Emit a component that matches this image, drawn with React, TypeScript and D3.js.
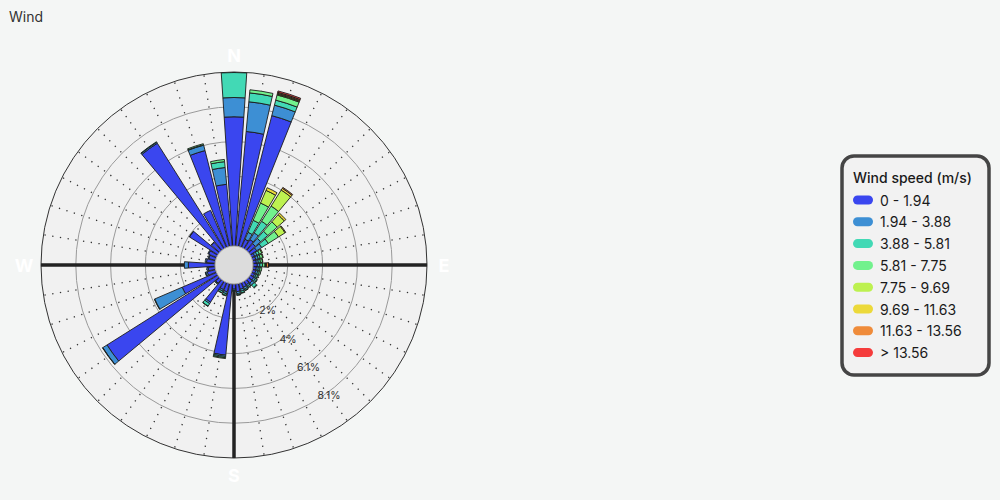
import React from 'react';
import * as d3 from 'd3';

// Direction categories (degrees clockwise from North)
const directions = [0, 9, 18, 27, 36, 45, 54, 63, 72, 81, 90, 99, 108, 117, 126, 135, 144, 153, 162, 171,
  180, 189, 198, 207, 216, 225, 234, 243, 252, 261, 270, 279, 288, 297, 306, 315, 324, 333, 342, 351];

const speedLabels = ['0 - 1.94', '1.94 - 3.88', '3.88 - 5.81', '5.81 - 7.75', '7.75 - 9.69', '9.69 - 11.63', '11.63 - 13.56', '> 13.56'];
const speedColors = ['#3a46ef', '#3d8fd4', '#42d9b5', '#72f18d', '#bdf150', '#ecd93a', '#ef8b3a', '#f53c3c'];

// frequency (%) per direction for each speed bin
const s0 = [7.50, 6.68, 7.84, 0.52, 0.64, 0.54, 0.45, 0.20, 0.20, 0.20, 0.25, 0.20, 0.20, 0.20, 0.25, 0.30, 0.25, 0.30, 0.35, 0.45,
  0.30, 4.15, 0.50, 0.45, 1.45, 0.30, 7.61, 2.17, 0.50, 0.40, 1.55, 0.50, 0.40, 0.50, 1.95, 0.65, 7.25, 2.35, 5.75, 3.60];
const s1 = [1.12, 1.73, 0.63, 0.44, 0.46, 0.41, 0.35, 0.15, 0.15, 0.12, 0.15, 0.12, 0.12, 0.10, 0.12, 0.15, 0.10, 0.12, 0.12, 0.12,
  0.08, 0.08, 0.12, 0.10, 0.10, 0.05, 0.29, 1.74, 0.10, 0.08, 0.23, 0.08, 0.05, 0.05, 0.02, 0.02, 0.07, 0, 0.32, 0.98];
const s2 = [1.45, 0.52, 0.30, 0.76, 0.80, 0.55, 0.45, 0.15, 0.12, 0.12, 0.15, 0.10, 0.10, 0.10, 0.10, 0.20, 0.08, 0.08, 0.10, 0.08,
  0.05, 0.07, 0.10, 0.10, 0.17, 0.02, 0.02, 0.02, 0.02, 0, 0, 0, 0, 0, 0, 0, 0.03, 0, 0.03, 0.34];
const s3 = [0, 0.18, 0.31, 1.09, 1.04, 0.73, 0.70, 0.15, 0.15, 0.12, 0.15, 0.10, 0.08, 0.05, 0.03, 0.03, 0.02, 0.02, 0.03, 0.02,
  0, 0.05, 0.03, 0.02, 0.02, 0, 0, 0, 0, 0, 0, 0, 0, 0, 0, 0, 0, 0, 0.06, 0.13];
const s4 = [0, 0, 0.05, 0.80, 1.10, 0.55, 0.45, 0.05, 0.03, 0.02, 0.03, 0, 0, 0, 0, 0, 0, 0, 0, 0,
  0, 0, 0, 0, 0, 0, 0, 0, 0, 0, 0, 0, 0, 0, 0, 0, 0, 0, 0, 0];
const s5 = [0, 0, 0.05, 0.17, 0.12, 0.12, 0.05, 0, 0, 0, 0.05, 0, 0, 0, 0, 0, 0, 0, 0, 0,
  0, 0, 0, 0, 0, 0, 0, 0, 0, 0, 0, 0, 0, 0, 0, 0, 0, 0, 0, 0];
const s6 = [0, 0, 0.06, 0, 0.06, 0, 0, 0, 0, 0, 0.12, 0, 0, 0, 0, 0, 0, 0, 0, 0,
  0, 0, 0, 0, 0, 0, 0, 0, 0, 0, 0, 0, 0, 0, 0, 0, 0, 0, 0, 0];
const s7 = [0, 0, 0.08, 0, 0, 0, 0, 0, 0, 0, 0.02, 0, 0, 0, 0, 0, 0, 0, 0, 0,
  0, 0, 0, 0, 0, 0, 0, 0, 0, 0, 0, 0, 0, 0, 0, 0, 0, 0, 0, 0];
const series = [s0, s1, s2, s3, s4, s5, s6, s7];

const radialMax = 10.1;
const tickValues = [2.02, 4.04, 6.06, 8.08];
const tickLabels = ['2%', '4%', '6.1%', '8.1%'];
const compass = [
  { label: 'N', deg: 0 },
  { label: 'E', deg: 90 },
  { label: 'S', deg: 180 },
  { label: 'W', deg: 270 },
];

const FONT = 'Inter, "Noto Sans", sans-serif';

export default function App() {
  const cx = 234, cy = 265, hub = 19, outer = 193;
  const r = d3.scaleLinear().domain([0, radialMax]).range([hub, outer]);
  const ang = d3.scaleLinear().domain([0, 360]).range([0, 2 * Math.PI]);
  const halfW = ang(7.6) / 2;
  const arc = d3.arc<any>();
  const px = (deg: number, rad: number) => Math.sin(ang(deg)) * rad;
  const py = (deg: number, rad: number) => -Math.cos(ang(deg)) * rad;

  const bars: { d: string; color: string; key: string }[] = [];
  directions.forEach((deg, i) => {
    let cum = 0;
    series.forEach((s, k) => {
      const v = s[i];
      if (v > 0) {
        const d = arc({
          innerRadius: r(cum),
          outerRadius: r(cum + v),
          startAngle: ang(deg) - halfW,
          endAngle: ang(deg) + halfW,
        }) as string;
        bars.push({ d, color: speedColors[k], key: `${i}-${k}` });
      }
      cum += v;
    });
  });

  const labelDeg = 144;

  return (
    <svg width={1000} height={500} style={{ position: 'absolute', left: 0, top: 0 }} fontFamily={FONT}>
      <rect x={0} y={0} width={1000} height={500} fill="#f4f6f5" />
      <text x={9} y={22} fontSize={14} fill="#333">Wind</text>
      <g transform={`translate(${cx},${cy})`}>
        <circle r={outer} fill="#f1f1f1" stroke="none" />
        {tickValues.map((t) => (
          <circle key={t} r={r(t)} fill="none" stroke="#9a9a9a" strokeWidth={1} />
        ))}
        {directions.filter((d) => d % 90 !== 0).map((deg) => (
          <line key={deg} x1={px(deg, hub)} y1={py(deg, hub)} x2={px(deg, outer)} y2={py(deg, outer)}
            stroke="#333" strokeWidth={1.3} strokeDasharray="1.3 6.5" />
        ))}
        <circle r={outer} fill="none" stroke="#333" strokeWidth={1} />
        <line x1={-outer} y1={0} x2={outer} y2={0} stroke="#222" strokeWidth={3.5} />
        <line x1={0} y1={-outer} x2={0} y2={outer} stroke="#222" strokeWidth={3.5} />
        {bars.map((b) => (
          <path key={b.key} d={b.d} fill={b.color} stroke="#1c1c1c" strokeWidth={0.9} strokeLinejoin="round" />
        ))}
        <circle r={hub} fill="#dcdcdc" stroke="#a8a8a8" strokeWidth={1} />
        {tickValues.map((t, i) => (
          <text key={t} x={px(labelDeg, r(t)) + 2} y={py(labelDeg, r(t)) + 3} fontSize={10.5} fill="#333"
            textAnchor="middle" dominantBaseline="middle">{tickLabels[i]}</text>
        ))}
        {compass.map((c) => (
          <text key={c.label} x={px(c.deg, 210)} y={py(c.deg, 210)} fontSize={18} fontWeight={700} fill="#ffffff"
            textAnchor="middle" dominantBaseline="central">{c.label}</text>
        ))}
      </g>
      <g transform="translate(842,156)">
        <rect x={0} y={0} width={147} height={219} rx={12} ry={12} fill="#f2f2f2" stroke="#454545" strokeWidth={3.5} />
        <text x={11} y={27} fontSize={14} fontWeight={500} fill="#1a1a1a">Wind speed (m/s)</text>
        {speedLabels.map((lab, i) => (
          <g key={lab} transform={`translate(0,${44 + i * 21.8})`}>
            <rect x={11} y={-4.5} width={20} height={9} rx={4.5} fill={speedColors[i]} />
            <text x={38} y={0} fontSize={14} fill="#1a1a1a" dominantBaseline="central">{lab}</text>
          </g>
        ))}
      </g>
    </svg>
  );
}
